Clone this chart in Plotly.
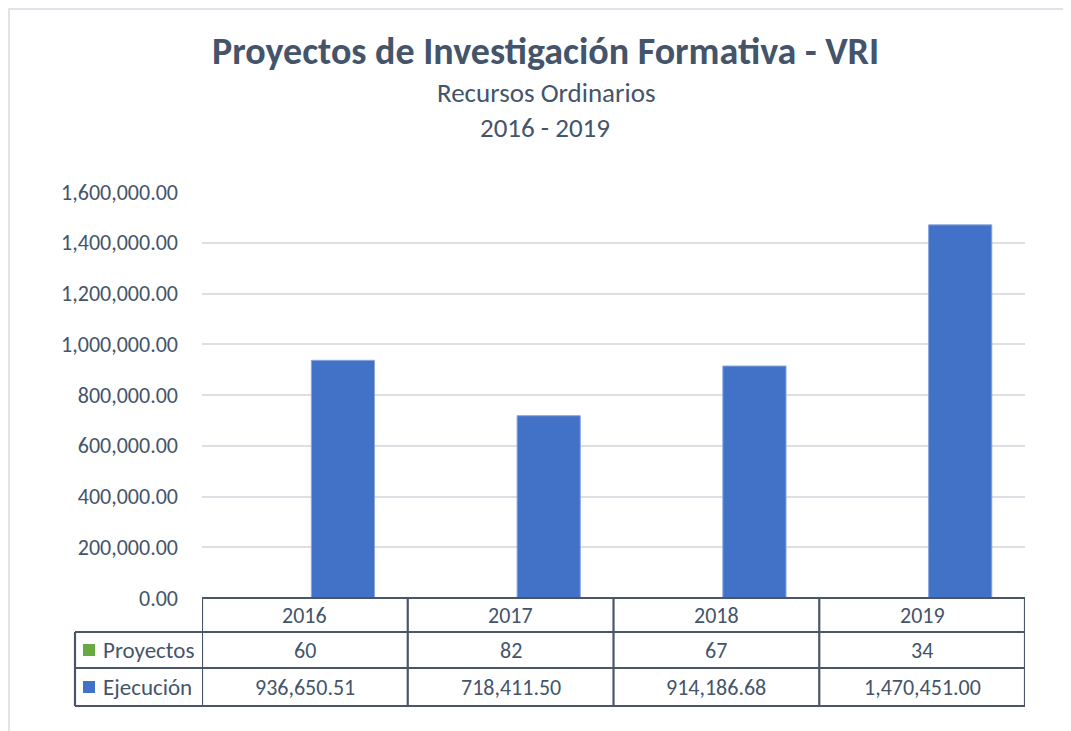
import plotly.graph_objects as go

years = ["2016", "2017", "2018", "2019"]
proyectos = [60, 82, 67, 34]
ejecucion = [936650.51, 718411.50, 914186.68, 1470451.00]
series_names = ["Proyectos", "Ejecución"]
title_text = "Proyectos de Investigación Formativa - VRI"
subtitle_1 = "Recursos Ordinarios"
subtitle_2 = "2016 - 2019"

OFF = 8  # page body margin
W, H = 1071 - OFF, 731 - OFF
L, R, T, B = 202 - OFF, 1025 - OFF, 192 - OFF, 598 - OFF
FONT = "Carlito, Calibri, Lato, sans-serif"
TXT = "#44546a"
BORDER = "#4a5568"
GREEN = "#6aa842"
BLUE = "#4271c8"


def px(x):
    return (x - OFF - L) / (R - L)


def py(y):
    return (B - (y - OFF)) / (B - T)


fig = go.Figure()
fig.add_trace(go.Bar(x=years, y=proyectos, name=series_names[0],
                     marker=dict(color=GREEN, line=dict(width=0))))
fig.add_trace(go.Bar(x=years, y=ejecucion, name=series_names[1],
                     marker=dict(color=BLUE, line=dict(color="#8aa6dc", width=1))))

fig.update_layout(
    width=W, height=H,
    margin=dict(l=L, r=W - R, t=T, b=H - B, pad=0),
    paper_bgcolor="white", plot_bgcolor="white",
    showlegend=False,
    barmode="group", bargap=0.26, bargroupgap=0.17,
    font=dict(family=FONT, color=TXT, size=22),
)
fig.update_xaxes(type="category", showticklabels=False, showgrid=False, zeroline=False,
                 showline=False, ticks="", range=[-0.5, 3.5])
fig.update_yaxes(range=[0, 1600000], dtick=200000, tickformat=",.2f",
                 showgrid=True, gridcolor="#dcdfe4", gridwidth=1.5,
                 zeroline=False, showline=False, ticks="",
                 ticklabelstandoff=23,
                 tickfont=dict(family=FONT, size=22, color=TXT))

shapes = []
line = dict(color=BORDER, width=2.2)
# outer light frame (partially visible)
frame = dict(color="#e0e4ea", width=2)
shapes.append(dict(type="line", xref="paper", yref="paper", x0=px(8), x1=px(1071), y0=py(9), y1=py(9), line=frame))
shapes.append(dict(type="line", xref="paper", yref="paper", x0=px(9), x1=px(9), y0=py(8), y1=py(731), line=frame))
# data table horizontal lines
shapes.append(dict(type="line", xref="paper", yref="paper", x0=0, x1=1, y0=0, y1=0, line=line))
for yy in (632, 668, 706):
    shapes.append(dict(type="line", xref="paper", yref="paper", x0=px(75), x1=1, y0=py(yy), y1=py(yy), line=line))
# vertical lines
shapes.append(dict(type="line", xref="paper", yref="paper", x0=px(75), x1=px(75), y0=py(632), y1=py(706), line=line))
for i in range(len(years) + 1):
    xv = -0.5 + i
    shapes.append(dict(type="line", xref="x", yref="paper", x0=xv, x1=xv, y0=0, y1=py(706), line=line))
# legend keys
shapes.append(dict(type="rect", xref="paper", yref="paper", x0=px(83), x1=px(95), y0=py(644), y1=py(656),
                   fillcolor=GREEN, line=dict(width=0)))
shapes.append(dict(type="rect", xref="paper", yref="paper", x0=px(83), x1=px(95), y0=py(681), y1=py(693),
                   fillcolor=BLUE, line=dict(width=0)))

ann = []
ann.append(dict(text=f"<b>{title_text}</b>", xref="paper", yref="paper", x=px(545), y=py(51),
                showarrow=False, font=dict(size=38, color=TXT, family=FONT), xanchor="center", yanchor="middle"))
ann.append(dict(text=subtitle_1, xref="paper", yref="paper", x=px(546), y=py(93),
                showarrow=False, font=dict(size=27, color=TXT, family=FONT), xanchor="center", yanchor="middle"))
ann.append(dict(text=subtitle_2, xref="paper", yref="paper", x=px(545), y=py(128),
                showarrow=False, font=dict(size=27, color=TXT, family=FONT), xanchor="center", yanchor="middle"))
for i, yr in enumerate(years):
    ann.append(dict(text=yr, xref="x", yref="paper", x=i, y=py(615), showarrow=False,
                    xanchor="center", yanchor="middle", font=dict(size=22, color=TXT, family=FONT)))
    ann.append(dict(text=f"{proyectos[i]:,}", xref="x", yref="paper", x=i, y=py(650), showarrow=False,
                    xanchor="center", yanchor="middle", font=dict(size=22, color=TXT, family=FONT)))
    ann.append(dict(text=f"{ejecucion[i]:,.2f}", xref="x", yref="paper", x=i, y=py(687), showarrow=False,
                    xanchor="center", yanchor="middle", font=dict(size=22, color=TXT, family=FONT)))
ann.append(dict(text=series_names[0], xref="paper", yref="paper", x=px(101), y=py(650), showarrow=False,
                xanchor="left", yanchor="middle", font=dict(size=23, color=TXT, family=FONT)))
ann.append(dict(text=series_names[1], xref="paper", yref="paper", x=px(101), y=py(687), showarrow=False,
                xanchor="left", yanchor="middle", font=dict(size=23, color=TXT, family=FONT)))

fig.update_layout(shapes=shapes, annotations=ann)
fig.write_html("out.html")
